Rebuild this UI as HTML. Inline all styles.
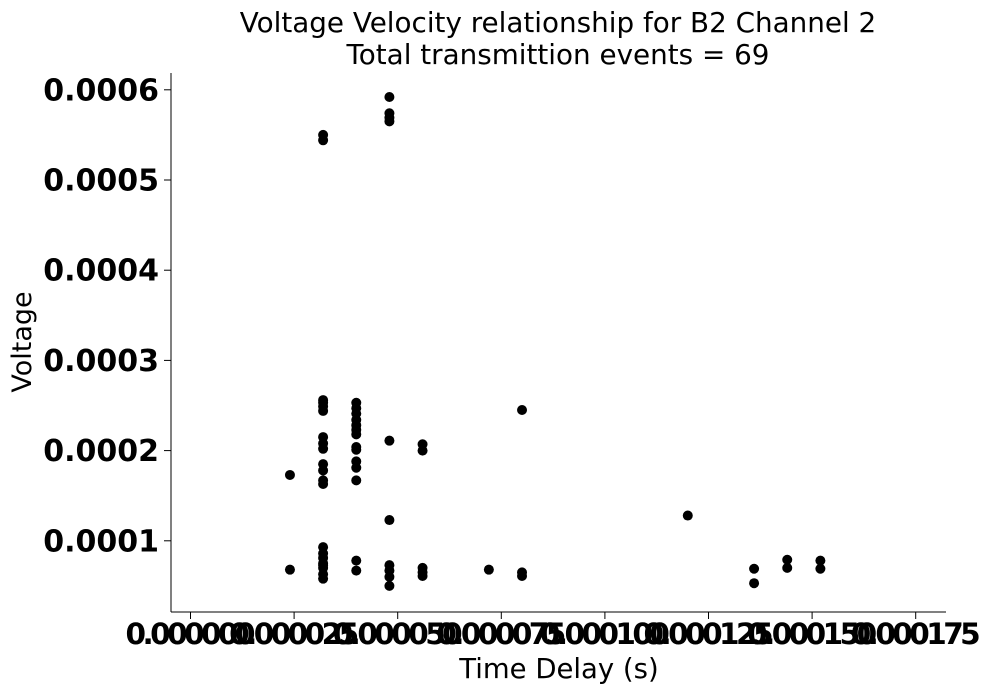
<!DOCTYPE html>
<html><head><meta charset="utf-8"><style>
body{margin:0;background:#fff;}
svg text{font-family:"DejaVu Sans","Liberation Sans",sans-serif;}
</style></head><body>
<svg id="chart" width="995" height="694">
<g>
<text x="558" y="32" font-size="27.8" text-anchor="middle">Voltage Velocity relationship for B2 Channel 2</text>
<text x="558" y="64" font-size="27.8" text-anchor="middle">Total transmittion events = 69</text>
</g>
<line x1="171" y1="73" x2="171" y2="612" stroke="#000"/>
<line x1="171" y1="612" x2="946" y2="612" stroke="#000"/>
<g id="xt"></g>
<g id="yt"></g>
<g id="pts"></g>
<text x="559" y="678" font-size="27.5" text-anchor="middle">Time Delay (s)</text>
<text transform="translate(31,342) rotate(-90)" font-size="27" text-anchor="middle">Voltage</text>
</svg>
<script>
const xTicks=[0,0.000025,0.00005,0.000075,0.0001,0.000125,0.00015,0.000175];
const xTickLabels=["0.000000","0.000025","0.000050","0.000075","0.000100","0.000125","0.000150","0.000175"];
const yTicks=[0.0001,0.0002,0.0003,0.0004,0.0005,0.0006];
const yTickLabels=["0.0001","0.0002","0.0003","0.0004","0.0005","0.0006"];
const xVals=[
0.000024,0.000024,
0.000032,0.000032,0.000032,0.000032,0.000032,0.000032,0.000032,0.000032,0.000032,0.000032,0.000032,0.000032,0.000032,0.000032,0.000032,0.000032,0.000032,0.000032,0.000032,0.000032,0.000032,
0.00004,0.00004,0.00004,0.00004,0.00004,0.00004,0.00004,0.00004,0.00004,0.00004,0.00004,0.00004,0.00004,0.00004,
0.000048,0.000048,0.000048,0.000048,0.000048,0.000048,0.000048,0.000048,0.000048,0.000048,
0.000056,0.000056,0.000056,0.000056,0.000056,
0.000072,
0.00008,0.00008,0.00008,
0.00012,
0.000136,0.000136,
0.000144,0.000144,
0.000152,0.000152];
const yVals=[
0.000173,0.000068,
0.00055,0.000544,0.000256,0.000253,0.000249,0.000244,0.000215,0.000208,0.000202,0.000185,0.000178,0.000167,0.000163,0.000093,0.000086,0.000081,0.000075,0.00007,0.000063,0.000058,0.000073,
0.000253,0.000247,0.000241,0.000234,0.000228,0.000223,0.000218,0.000204,0.000201,0.000188,0.000181,0.000167,0.000078,0.000067,
0.000592,0.000574,0.000569,0.000565,0.000211,0.000123,0.000073,0.000067,0.00006,0.00005,
0.000207,0.0002,0.00007,0.000065,0.000061,
0.000068,
0.000245,0.000065,0.000061,
0.000128,
0.000069,0.000053,
0.000079,0.00007,
0.000078,0.000069];
const NS="http://www.w3.org/2000/svg";
const xs=v=>190.5+v/0.000025*103.6;
const ys=v=>631-v/0.0001*90.2;
const xt=document.getElementById('xt'),yt=document.getElementById('yt'),pts=document.getElementById('pts');
xTicks.forEach((v,i)=>{
 const l=document.createElementNS(NS,'line');
 
 
 l.setAttribute('x1',xs(v));l.setAttribute('x2',xs(v));l.setAttribute('y1',612);l.setAttribute('y2',619);l.setAttribute('stroke','#000');
 xt.appendChild(l);
 const t=document.createElementNS(NS,'text');
 
 
 t.setAttribute('x',xs(v));t.setAttribute('y',644);t.setAttribute('font-size','29.5');t.setAttribute('font-weight','bold');t.setAttribute('text-anchor','middle');
 t.setAttribute('textLength','130');t.setAttribute('lengthAdjust','spacing');
 t.textContent=xTickLabels[i];xt.appendChild(t);
});
yTicks.forEach((v,i)=>{
 const l=document.createElementNS(NS,'line');
 
 
 l.setAttribute('x1',164);l.setAttribute('x2',171);l.setAttribute('y1',ys(v));l.setAttribute('y2',ys(v));l.setAttribute('stroke','#000');
 yt.appendChild(l);
 const t=document.createElementNS(NS,'text');
 
 
 t.setAttribute('x',159);t.setAttribute('y',ys(v)+10.5);t.setAttribute('font-size','30');t.setAttribute('font-weight','bold');t.setAttribute('text-anchor','end');
 t.textContent=yTickLabels[i];yt.appendChild(t);
});
xVals.forEach((v,i)=>{
 const c=document.createElementNS(NS,'circle');
 
 
 c.setAttribute('cx',xs(v));c.setAttribute('cy',ys(yVals[i]));c.setAttribute('r',5);c.setAttribute('fill','#000');
 pts.appendChild(c);
});
</script>
</body></html>
